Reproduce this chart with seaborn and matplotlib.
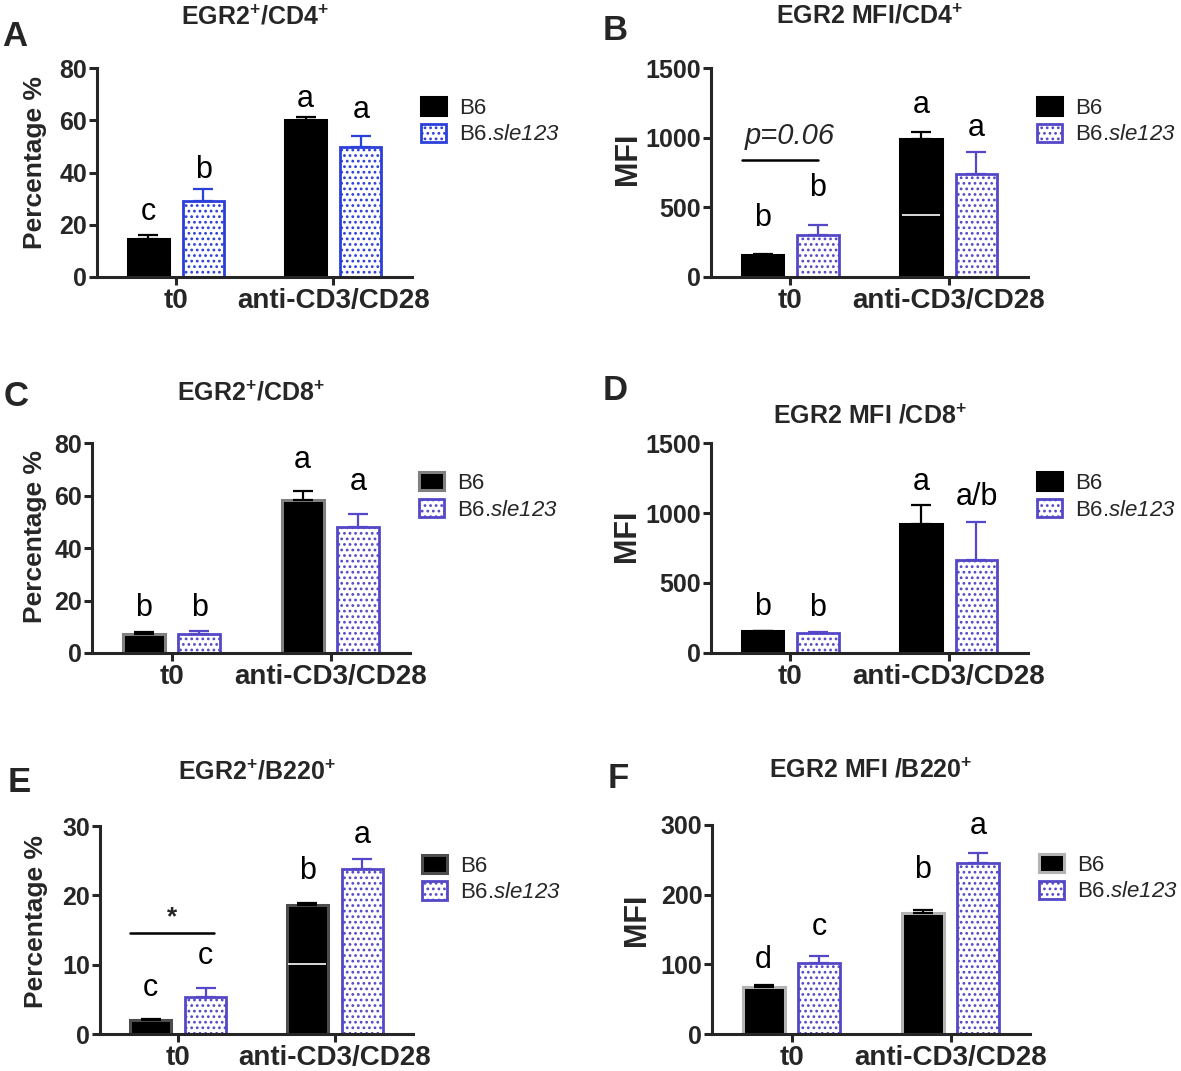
import numpy as np
import pandas as pd
import matplotlib
matplotlib.use('Agg')
import matplotlib.pyplot as plt
from matplotlib.patches import Patch
import seaborn as sns

# 데이터
conditions = ['t0', 'anti-CD3/CD28']
strains = ['B6', 'B6.sle123']

# A: EGR2+/CD4+ (%)
a_b6 = [14.5, 60.2]
a_b6_err = [1.5, 1.2]
a_sle = [29.2, 49.7]
a_sle_err = [4.5, 4.2]
a_b6_letters = ['c', 'a']
a_sle_letters = ['b', 'a']
a_b6_letter_y = [25, 68]
a_sle_letter_y = [41, 64]

# B: EGR2 MFI/CD4+
b_b6 = [156, 989]
b_b6_err = [7, 51]
b_sle = [300, 737]
b_sle_err = [72, 163]
b_b6_letters = ['b', 'a']
b_sle_letters = ['b', 'a']
b_b6_letter_y = [420, 1236]
b_sle_letter_y = [636, 1068]
b_pline_y = 840
b_ptext_y = 1010
b_white_y = 445

# C: EGR2+/CD8+ (%)
c_b6 = [7.1, 58.4]
c_b6_err = [0.8, 3.4]
c_sle = [7.1, 47.9]
c_sle_err = [1.3, 5.0]
c_b6_letters = ['b', 'a']
c_sle_letters = ['b', 'a']
c_b6_letter_y = [17, 73.7]
c_sle_letter_y = [17, 65.3]

# D: EGR2 MFI /CD8+
d_b6 = [157, 919]
d_b6_err = [0, 138]
d_sle = [145, 664]
d_sle_err = [5, 274]
d_b6_letters = ['b', 'a']
d_sle_letters = ['b', 'a/b']
d_b6_letter_y = [331, 1224]
d_sle_letter_y = [321, 1117]

# E: EGR2+/B220+ (%)
e_b6 = [2.0, 18.6]
e_b6_err = [0.1, 0.25]
e_sle = [5.4, 23.75]
e_sle_err = [1.2, 1.45]
e_b6_letters = ['c', 'b']
e_sle_letters = ['c', 'a']
e_b6_letter_y = [6.6, 23.5]
e_sle_letter_y = [11.2, 28.7]
e_star_line_y = 14.6
e_star_y = 16.9
e_white_y = 10.1

# F: EGR2 MFI /B220+
f_b6 = [68, 174]
f_b6_err = [2.3, 4]
f_sle = [102.3, 246]
f_sle_err = [9.7, 14]
f_b6_letters = ['d', 'b']
f_sle_letters = ['c', 'a']
f_b6_letter_y = [106, 235]
f_sle_letter_y = [154, 298]

sns.set_style('ticks')
plt.rcParams['font.family'] = ['Liberation Sans', 'DejaVu Sans']
plt.rcParams['mathtext.fontset'] = 'custom'
plt.rcParams['mathtext.rm'] = 'Liberation Sans:italic'
plt.rcParams['mathtext.it'] = 'Liberation Sans:italic'
plt.rcParams['mathtext.bf'] = 'Liberation Sans:bold'
plt.rcParams['hatch.linewidth'] = 1.2

W, H = 1181, 1071
fig = plt.figure(figsize=(W / 100, H / 100), dpi=100)


def px_axes(left, right, bottom, top):
    """픽셀 좌표 -> figure 비율"""
    return fig.add_axes([left / W, 1 - bottom / H, (right - left) / W, (bottom - top) / H])


def draw_panel(ax, b6, b6_err, sle, sle_err, b6_let, sle_let, b6_ly, sle_ly,
               ymax, ystep, ylabel, ylabel_size, title, title_y, label_xy,
               b6_edge, sle_edge):
    df = pd.DataFrame({
        'cond': conditions * 2,
        'strain': [strains[0]] * 2 + [strains[1]] * 2,
        'value': list(b6) + list(sle),
    })
    sns.barplot(data=df, x='cond', y='value', hue='strain', order=conditions,
                hue_order=strains, palette={'B6': 'black', 'B6.sle123': 'white'},
                width=0.7, gap=0.25, errorbar=None, legend=False, ax=ax, zorder=2)

    for bar in ax.containers[0]:
        bar.set_facecolor('black')
        bar.set_edgecolor(b6_edge)
        bar.set_linewidth(2.2)
    for bar in ax.containers[1]:
        bar.set_facecolor('white')
        bar.set_edgecolor(sle_edge)
        bar.set_hatch('...')
        bar.set_linewidth(2.0)

    groups = [(ax.containers[0], b6_err, b6_let, b6_ly, 'black'),
              (ax.containers[1], sle_err, sle_let, sle_ly, sle_edge)]
    for cont, err, lets, ly, ecol in groups:
        xs = [b.get_x() + b.get_width() / 2 for b in cont]
        ys = [b.get_height() for b in cont]
        ax.errorbar(xs, ys, yerr=[np.zeros(len(err)), err], fmt='none', ecolor=ecol,
                    elinewidth=1.6, capsize=7.5, capthick=1.6, zorder=3)
        for x, t, y in zip(xs, lets, ly):
            ax.text(x, y, t, ha='center', va='center', fontsize=22, color='black')

    ax.set_xlim(-0.5, 1.5)
    ax.set_ylim(0, ymax)
    ax.set_yticks(np.arange(0, ymax + 1, ystep))
    ax.set_xlabel('')
    ax.set_ylabel(ylabel, fontsize=ylabel_size, fontweight='bold', va='center')
    ax.yaxis.set_label_coords(*label_xy)
    sns.despine(ax=ax)
    for s in ['left', 'bottom']:
        ax.spines[s].set_linewidth(2.2)
    ax.tick_params(axis='x', length=6, width=2.2, pad=2, labelsize=20)
    ax.tick_params(axis='y', length=6, width=2.2, pad=1, labelsize=18)
    for lab in ax.get_xticklabels() + ax.get_yticklabels():
        lab.set_fontweight('bold')
    ax.text(0.5, title_y, title, transform=ax.transAxes, ha='center', va='center',
            fontsize=18, fontweight='bold')

    handles = [Patch(facecolor='black', edgecolor=b6_edge, linewidth=2.2),
               Patch(facecolor='white', edgecolor=sle_edge, hatch='...', linewidth=2.0)]
    ax.legend(handles, ['B6', 'B6.$\\mathit{sle123}$'], loc='upper left',
              bbox_to_anchor=(1.0, 0.905), frameon=False, fontsize=16,
              handlelength=1.15, handleheight=0.9, handletextpad=0.55,
              labelspacing=0.22, borderaxespad=0)


def white_line(ax, y):
    # 검은 막대 안의 흰 선
    bar = ax.containers[0][1]
    ax.hlines(y, bar.get_x() + 0.01, bar.get_x() + bar.get_width() - 0.01,
              color='white', lw=1.2, zorder=4)


blue1 = '#2b3fd9'
blue2 = '#5448c8'

axA = px_axes(97, 412, 277, 68)
draw_panel(axA, a_b6, a_b6_err, a_sle, a_sle_err, a_b6_letters, a_sle_letters,
           a_b6_letter_y, a_sle_letter_y, 80, 20, 'Percentage %', 19,
           'EGR2$^{\\mathbf{+}}$/CD4$^{\\mathbf{+}}$', 1.243, (-0.197, 0.55),
           'black', blue1)

axB = px_axes(711, 1028, 277, 68)
draw_panel(axB, b_b6, b_b6_err, b_sle, b_sle_err, b_b6_letters, b_sle_letters,
           b_b6_letter_y, b_sle_letter_y, 1500, 500, 'MFI', 22,
           'EGR2 MFI/CD4$^{\\mathbf{+}}$', 1.249, (-0.262, 0.565), 'black', blue2)
white_line(axB, b_white_y)
# p 값 표시
bx = axB.containers[0][0].get_x()
sbar = axB.containers[1][0]
sx = sbar.get_x() + sbar.get_width() / 2
axB.plot([bx, sx], [b_pline_y, b_pline_y], color='black', lw=1.8)
axB.text((bx + sbar.get_x() + sbar.get_width()) / 2, b_ptext_y, 'p=0.06',
         ha='center', va='center', fontsize=21, fontstyle='italic')

axC = px_axes(92, 410, 653, 443)
draw_panel(axC, c_b6, c_b6_err, c_sle, c_sle_err, c_b6_letters, c_sle_letters,
           c_b6_letter_y, c_sle_letter_y, 80, 20, 'Percentage %', 19,
           'EGR2$^{\\mathbf{+}}$/CD8$^{\\mathbf{+}}$', 1.238, (-0.18, 0.557),
           '#808080', blue2)

axD = px_axes(711, 1028, 653, 443)
draw_panel(axD, d_b6, d_b6_err, d_sle, d_sle_err, d_b6_letters, d_sle_letters,
           d_b6_letter_y, d_sle_letter_y, 1500, 500, 'MFI', 22,
           'EGR2 MFI /CD8$^{\\mathbf{+}}$', 1.129, (-0.265, 0.56), 'black', blue2)

axE = px_axes(100, 413, 1034, 826)
draw_panel(axE, e_b6, e_b6_err, e_sle, e_sle_err, e_b6_letters, e_sle_letters,
           e_b6_letter_y, e_sle_letter_y, 30, 10, 'Percentage %', 19,
           'EGR2$^{\\mathbf{+}}$/B220$^{\\mathbf{+}}$', 1.26, (-0.204, 0.54),
           '#4d4d4d', blue2)
white_line(axE, e_white_y)
# * 표시
ex = axE.containers[0][0].get_x()
ebar = axE.containers[1][0]
esx = ebar.get_x() + ebar.get_width() * 0.7
axE.plot([ex, esx], [e_star_line_y, e_star_line_y], color='black', lw=1.8)
axE.text((ex + esx) / 2, e_star_y, '*', ha='center', va='center', fontsize=19,
         fontweight='bold')

axF = px_axes(712, 1030, 1034, 825)
draw_panel(axF, f_b6, f_b6_err, f_sle, f_sle_err, f_b6_letters, f_sle_letters,
           f_b6_letter_y, f_sle_letter_y, 300, 100, 'MFI', 22,
           'EGR2 MFI /B220$^{\\mathbf{+}}$', 1.26, (-0.236, 0.545), '#b3b3b3', blue2)

# 패널 문자
panel_letters = ['A', 'B', 'C', 'D', 'E', 'F']
panel_xy = [(15, 36), (615, 31), (16, 396), (615, 390), (19, 783), (618, 778)]
for t, (x, y) in zip(panel_letters, panel_xy):
    fig.text(x / W, 1 - y / H, t, ha='center', va='center', fontsize=25,
             fontweight='bold')

fig.savefig('out.png', dpi=100, facecolor='white')
